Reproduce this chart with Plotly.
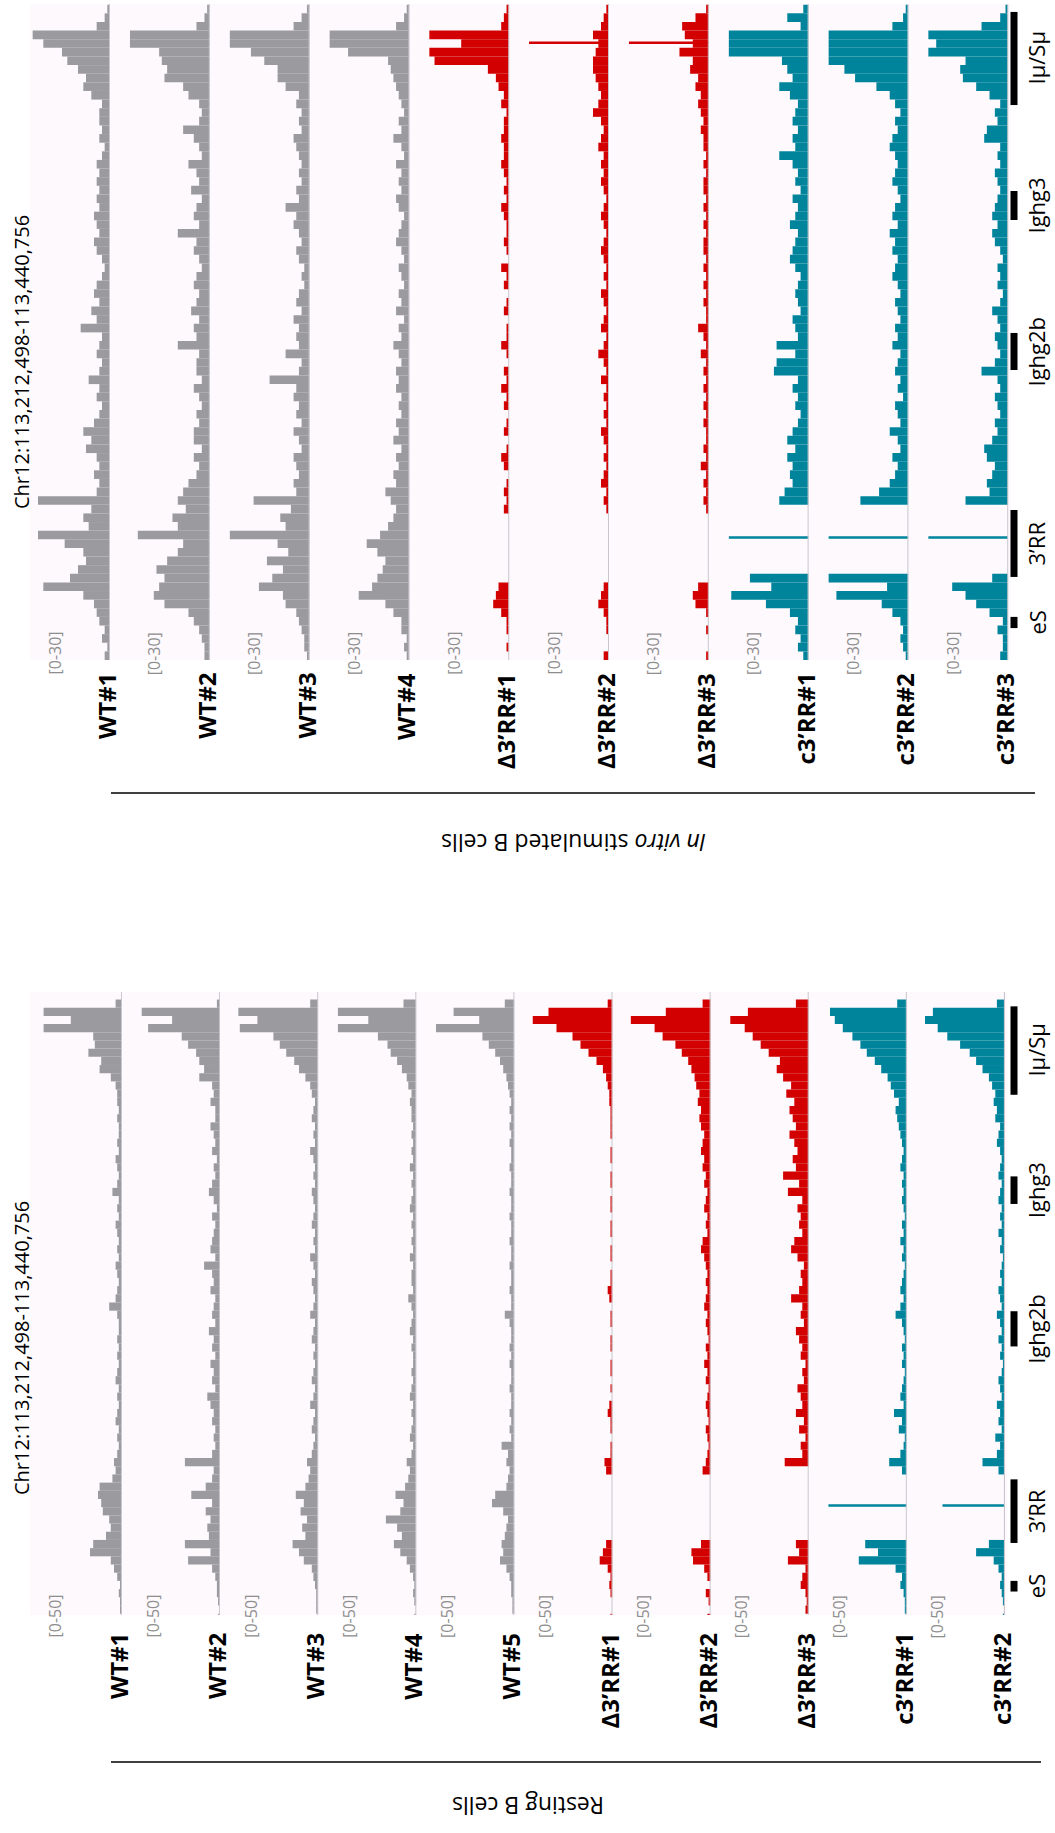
import plotly.graph_objects as go

W, H = 1055, 1833

# bins de 3 kb a lo largo de Chr12:113,212,498-113,440,756 (abajo -> arriba)
bin_kb = [1.5 + 3 * i for i in range(76)]

# ---- in vitro stimulated B cells, escala [0-30]
stim_names = ["WT#1", "WT#2", "WT#3", "WT#4", "Δ3’RR#1", "Δ3’RR#2", "Δ3’RR#3",
              "c3’RR#1", "c3’RR#2", "c3’RR#3"]
stim_wt1 = [2, 1, 3, 2, 4, 5, 6, 10, 25, 15, 12, 9, 10, 17, 27, 8, 10, 7, 27, 5,
            4, 6, 4, 5, 9, 7, 10, 6, 4, 3, 5, 4, 8, 4, 3, 5, 4, 3, 11, 5,
            7, 4, 6, 5, 3, 2, 3, 5, 6, 4, 5, 6, 4, 5, 4, 5, 4, 5, 3, 2,
            4, 3, 4, 4, 3, 7, 10, 9, 12, 16, 18, 25, 29, 5, 2, 1]
stim_wt2 = [2, 2, 3, 4, 6, 8, 17, 21, 19, 17, 20, 16, 12, 10, 27, 12, 14, 9, 12, 10,
            8, 5, 4, 6, 3, 6, 6, 4, 5, 3, 4, 6, 3, 5, 5, 4, 12, 5, 6, 4,
            7, 5, 4, 6, 5, 3, 4, 6, 5, 12, 4, 6, 5, 3, 7, 4, 5, 8, 3, 4,
            6, 10, 4, 3, 4, 8, 10, 17, 16, 18, 19, 30, 30, 5, 2, 1]
stim_wt3 = [1, 2, 2, 3, 4, 5, 9, 10, 19, 14, 10, 16, 8, 12, 30, 9, 11, 7, 21, 5,
            6, 4, 5, 6, 3, 4, 6, 3, 5, 4, 6, 5, 15, 4, 3, 9, 4, 5, 4, 6,
            3, 5, 4, 2, 3, 2, 4, 5, 3, 4, 6, 5, 9, 4, 5, 3, 4, 3, 4, 5,
            6, 3, 4, 3, 5, 4, 9, 12, 12, 17, 22, 30, 30, 6, 3, 1]
stim_wt4 = [1, 2, 1, 3, 3, 6, 9, 19, 14, 12, 10, 9, 12, 16, 11, 8, 6, 5, 7, 9,
            5, 6, 4, 5, 3, 6, 4, 5, 3, 4, 3, 5, 4, 5, 3, 4, 6, 3, 4, 2,
            5, 3, 4, 2, 3, 4, 2, 3, 5, 4, 3, 2, 4, 5, 3, 4, 3, 5, 2, 3,
            6, 3, 4, 2, 3, 4, 5, 6, 7, 8, 23, 30, 30, 5, 2, 1]
stim_d1 = [0, 1, 0, 1, 1, 3, 6, 5, 4, 0, 0, 0, 0, 0, 0, 0, 0, 2, 1, 2,
           1, 0, 2, 3, 1, 0, 2, 1, 0, 2, 1, 3, 1, 2, 0, 1, 3, 1, 1, 0,
           2, 1, 0, 2, 1, 3, 0, 1, 2, 1, 1, 2, 3, 1, 2, 1, 2, 3, 2, 2,
           3, 2, 2, 1, 3, 2, 4, 5, 8, 28, 30, 18, 30, 3, 2, 1]
stim_d2 = [2, 0, 0, 1, 1, 2, 4, 3, 2, 0, 0, 0, 0, 0, 0, 0, 0, 1, 2, 1,
           3, 2, 1, 2, 1, 2, 3, 1, 2, 1, 2, 1, 3, 1, 2, 4, 2, 1, 3, 2,
           1, 2, 3, 1, 2, 1, 2, 3, 2, 1, 2, 3, 2, 1, 2, 3, 2, 3, 2, 4,
           3, 2, 3, 6, 4, 3, 4, 5, 6, 6, 5, 4, 6, 3, 2, 1]
stim_d3 = [1, 0, 0, 1, 0, 1, 5, 6, 4, 0, 0, 0, 0, 0, 0, 0, 0, 1, 2, 1,
           2, 1, 3, 1, 2, 1, 1, 2, 1, 2, 1, 2, 1, 2, 1, 3, 1, 2, 4, 1,
           1, 2, 1, 2, 1, 2, 1, 2, 2, 1, 2, 1, 2, 1, 2, 2, 1, 2, 1, 2,
           2, 3, 2, 3, 4, 3, 5, 4, 7, 6, 11, 6, 9, 10, 5, 1]
stim_c1 = [2, 4, 3, 5, 4, 7, 16, 29, 14, 22, 0, 0, 0, 0, 0, 0, 0, 0, 11, 9,
           6, 7, 6, 8, 5, 8, 6, 4, 3, 5, 4, 6, 4, 13, 12, 5, 12, 4, 5, 6,
           3, 4, 5, 4, 3, 5, 7, 6, 5, 4, 7, 5, 4, 6, 3, 5, 4, 6, 11, 5,
           6, 4, 6, 5, 4, 7, 11, 6, 8, 10, 30, 30, 30, 3, 8, 2]
stim_c2 = [1, 2, 3, 2, 3, 6, 10, 27, 8, 30, 0, 0, 0, 0, 0, 0, 0, 0, 18, 11,
           7, 5, 4, 6, 3, 4, 7, 3, 4, 5, 2, 4, 3, 5, 4, 3, 6, 4, 5, 3,
           4, 5, 3, 4, 6, 5, 4, 6, 5, 7, 4, 6, 5, 3, 4, 6, 5, 4, 5, 7,
           6, 4, 5, 3, 5, 7, 12, 20, 24, 30, 30, 30, 30, 6, 2, 1]
stim_c3 = [3, 2, 2, 4, 2, 7, 12, 16, 21, 6, 0, 0, 0, 0, 0, 0, 0, 0, 16, 7,
           8, 6, 5, 8, 9, 6, 4, 5, 3, 4, 5, 3, 4, 10, 5, 3, 4, 5, 3, 4,
           6, 3, 2, 4, 3, 4, 2, 3, 5, 6, 4, 6, 5, 4, 3, 4, 5, 3, 4, 3,
           9, 8, 4, 5, 3, 7, 12, 17, 18, 16, 30, 27, 30, 10, 3, 1]
# picos estrechos (un solo bin fino) por pista: posicion kb y valor
stim_spike_kb = [None, None, None, None, None, 214.8, 214.8, 42.6, 42.6, 42.6]
stim_spike_val = [0, 0, 0, 0, 0, 30, 30, 30, 30, 30]

# ---- resting B cells, escala [0-50]
rest_names = ["WT#1", "WT#2", "WT#3", "WT#4", "WT#5", "Δ3’RR#1", "Δ3’RR#2", "Δ3’RR#3",
              "c3’RR#1", "c3’RR#2"]
rest_wt1 = [0, 1, 1, 2, 1, 3, 5, 7, 20, 18, 10, 7, 8, 12, 13, 15, 14, 6, 4, 5,
            3, 2, 3, 2, 4, 3, 2, 3, 2, 4, 3, 2, 3, 2, 3, 2, 2, 3, 8, 4,
            3, 2, 3, 4, 2, 3, 2, 3, 4, 2, 3, 2, 6, 3, 2, 3, 4, 2, 3, 2,
            2, 3, 2, 3, 3, 4, 7, 14, 13, 21, 17, 18, 49, 32, 49, 4]
rest_wt2 = [1, 0, 1, 2, 2, 3, 5, 20, 6, 22, 7, 8, 6, 9, 5, 18, 9, 5, 4, 22,
            5, 3, 4, 3, 5, 4, 6, 8, 3, 5, 4, 6, 3, 5, 4, 7, 3, 5, 4, 3,
            6, 4, 5, 10, 3, 6, 5, 4, 3, 5, 2, 4, 7, 5, 3, 4, 2, 5, 3, 4,
            6, 3, 3, 6, 4, 5, 13, 10, 13, 15, 20, 24, 45, 30, 49, 2]
rest_wt3 = [0, 1, 1, 1, 2, 3, 4, 9, 12, 16, 8, 10, 7, 11, 9, 14, 8, 6, 5, 7,
            4, 3, 2, 4, 3, 2, 5, 3, 2, 4, 3, 2, 3, 2, 4, 3, 2, 5, 3, 2,
            3, 4, 2, 3, 5, 2, 3, 2, 4, 3, 2, 3, 4, 2, 3, 2, 3, 5, 2, 3,
            2, 4, 3, 2, 4, 5, 8, 12, 15, 20, 24, 28, 49, 38, 50, 5]
rest_wt4 = [1, 0, 1, 2, 1, 2, 4, 6, 10, 14, 9, 12, 19, 10, 8, 13, 7, 5, 4, 6,
            3, 2, 4, 3, 2, 3, 2, 4, 3, 2, 3, 2, 2, 3, 2, 4, 3, 2, 3, 5,
            2, 3, 3, 2, 4, 2, 3, 2, 3, 2, 4, 3, 2, 3, 2, 4, 2, 3, 2, 3,
            2, 3, 3, 4, 3, 5, 6, 9, 12, 16, 18, 24, 49, 30, 49, 8]
rest_wt5 = [0, 1, 1, 2, 2, 3, 5, 9, 7, 8, 6, 5, 4, 7, 14, 12, 5, 4, 3, 5,
            4, 8, 2, 3, 2, 3, 2, 2, 3, 2, 2, 3, 2, 3, 2, 2, 3, 6, 2, 2,
            3, 2, 2, 3, 2, 2, 3, 2, 2, 3, 2, 2, 3, 2, 2, 3, 2, 2, 3, 2,
            3, 2, 3, 2, 3, 4, 5, 7, 9, 12, 16, 20, 49, 22, 38, 6]
rest_d1 = [1, 0, 0, 1, 2, 1, 3, 8, 6, 4, 0, 0, 0, 0, 0, 0, 0, 0, 4, 5,
           1, 1, 0, 1, 1, 3, 2, 0, 1, 0, 1, 1, 0, 1, 1, 0, 1, 1, 0, 2,
           3, 1, 1, 0, 1, 1, 0, 1, 1, 0, 1, 1, 0, 1, 1, 0, 1, 1, 0, 1,
           1, 1, 1, 2, 2, 3, 4, 6, 10, 15, 20, 25, 35, 50, 40, 3]
rest_d2 = [2, 0, 1, 3, 0, 2, 4, 11, 12, 6, 0, 0, 0, 0, 0, 0, 0, 0, 5, 3,
           2, 1, 2, 3, 1, 2, 3, 2, 1, 3, 2, 4, 2, 3, 1, 2, 3, 2, 4, 3,
           2, 3, 2, 3, 4, 6, 5, 2, 3, 2, 4, 3, 2, 4, 3, 5, 4, 6, 5, 4,
           6, 7, 6, 8, 7, 9, 10, 12, 14, 18, 22, 30, 35, 50, 28, 5]
rest_d3 = [0, 2, 1, 2, 5, 4, 2, 13, 6, 8, 0, 0, 0, 0, 0, 0, 0, 0, 0, 15,
           4, 5, 2, 6, 3, 8, 4, 5, 7, 3, 4, 2, 5, 4, 6, 8, 3, 5, 4, 11,
           6, 4, 5, 3, 7, 11, 9, 4, 6, 5, 7, 4, 13, 6, 16, 8, 10, 7, 9, 12,
           8, 10, 12, 9, 14, 11, 16, 20, 18, 25, 30, 35, 40, 49, 38, 8]
rest_c1 = [0, 1, 1, 2, 4, 3, 7, 30, 18, 26, 0, 0, 0, 0, 0, 0, 0, 0, 3, 11,
           4, 2, 1, 5, 3, 8, 2, 4, 3, 2, 1, 3, 2, 3, 1, 2, 3, 7, 4, 2,
           4, 3, 2, 1, 3, 2, 4, 2, 3, 1, 2, 3, 2, 3, 2, 4, 3, 2, 3, 4,
           5, 6, 7, 5, 8, 10, 12, 16, 20, 25, 29, 34, 40, 45, 48, 6]
rest_c2 = [1, 0, 1, 2, 3, 2, 4, 7, 18, 10, 0, 0, 0, 0, 0, 0, 0, 0, 4, 14,
           5, 3, 6, 2, 4, 3, 5, 2, 3, 4, 2, 1, 3, 2, 4, 2, 3, 5, 2, 3,
           4, 2, 3, 2, 1, 3, 2, 4, 2, 3, 2, 4, 3, 2, 4, 3, 2, 3, 5, 4,
           3, 6, 5, 7, 6, 8, 10, 14, 18, 22, 28, 36, 42, 50, 45, 5]
rest_spike_kb = [None, None, None, None, None, None, None, None, 42.6, 42.6]
rest_spike_val = [0, 0, 0, 0, 0, 0, 0, 0, 49, 39]

# anotacion de genes (kb desde 113,212,498)
genes = ["eS", "3’RR", "Ighg2b", "Ighg3", "Iμ/Sμ"]
gene_start = [11.1, 28.9, 100.9, 153.1, 193.1]
gene_end = [15.0, 52.2, 113.8, 163.2, 225.5]

GRIS, ROJO, AZUL = "#9b9a9e", "#d20000", "#00849c"
FONT = "Open Sans"


def color(nombre):
    if nombre.startswith("WT"):
        return GRIS
    if nombre.startswith("Δ"):
        return ROJO
    return AZUL


def px(x):
    return x / W


def py(y):
    return 1 - y / H


def texto(txt, x, y, size, angle=-90, xa="center", ya="middle", col="black", yref="paper"):
    return dict(text=txt, x=x, y=y, xref="paper", yref=yref, textangle=angle,
                showarrow=False, xanchor=xa, yanchor=ya, borderpad=0,
                font=dict(family=FONT, size=size, color=col))


paneles = [
    dict(yaxis="y", names=stim_names, scale=30, scale_txt="[0-30]",
         data=[stim_wt1, stim_wt2, stim_wt3, stim_wt4, stim_d1, stim_d2, stim_d3,
               stim_c1, stim_c2, stim_c3],
         spk=stim_spike_kb, spv=stim_spike_val,
         top=4, bot=660, rng=[0, 228.26], b0=110, step=99.8, right=1011,
         lab_top=672, sc_off=56, sc_top=631, title_y=362),
    dict(yaxis="y2", names=rest_names, scale=50, scale_txt="[0-50]",
         data=[rest_wt1, rest_wt2, rest_wt3, rest_wt4, rest_wt5, rest_d1, rest_d2,
               rest_d3, rest_c1, rest_c2],
         spk=rest_spike_kb, spv=rest_spike_val,
         top=992, bot=1615, rng=[2.5, 230.76], b0=122, step=98.1, right=1007,
         lab_top=1632, sc_off=68, sc_top=1594, title_y=1348),
]

fig = go.Figure()
shapes, annots, layout = [], [], {}
n = 0
for p in paneles:
    ykey = "yaxis" if p["yaxis"] == "y" else "yaxis" + p["yaxis"][1:]
    # fondo del panel
    shapes.append(dict(type="rect", xref="paper", yref="paper", layer="below",
                       x0=px(30), x1=px(p["right"]), y0=py(p["bot"]), y1=py(p["top"]),
                       fillcolor="#fdf9fd", line_width=0))
    first = None
    for k, nombre in enumerate(p["names"]):
        vals = p["data"][k]
        n += 1
        xref = "x" if n == 1 else f"x{n}"
        xkey = "xaxis" if n == 1 else f"xaxis{n}"
        if first is None:
            first = xref
        b = p["b0"] + p["step"] * k
        layout[xkey] = dict(domain=[px(b - 80), px(b)], range=[p["scale"], 0],
                            visible=False, fixedrange=True, anchor=p["yaxis"])
        fig.add_trace(go.Bar(x=vals, y=bin_kb, orientation="h", width=3,
                             marker=dict(color=color(nombre), line_width=0),
                             xaxis=xref, yaxis=p["yaxis"], hoverinfo="skip"))
        if p["spk"][k] is not None:
            fig.add_trace(go.Bar(x=[p["spv"][k]], y=[p["spk"][k]], orientation="h",
                                 width=0.9, marker=dict(color=color(nombre), line_width=0),
                                 xaxis=xref, yaxis=p["yaxis"], hoverinfo="skip"))
        # linea base
        shapes.append(dict(type="line", xref=xref, yref="paper", x0=0, x1=0,
                           y0=py(p["bot"]), y1=py(p["top"]),
                           line=dict(color="#c9c7cd", width=2)))
        annots.append(texto(f"<b>{nombre}</b>", px(b - 4), py(p["lab_top"]), 24, ya="top"))
        annots.append(texto(p["scale_txt"], px(b - p["sc_off"]), py(p["sc_top"]), 16,
                            ya="top", col="#8e8e8e"))
    layout[ykey] = dict(domain=[py(p["bot"]), py(p["top"])], range=p["rng"],
                        visible=False, fixedrange=True, anchor=first)
    # genes
    for g, s, e in zip(genes, gene_start, gene_end):
        shapes.append(dict(type="line", xref="paper", yref=p["yaxis"],
                           x0=px(1014), x1=px(1014), y0=s, y1=e,
                           line=dict(color="black", width=7)))
        annots.append(texto(g, px(1036), (s + e) / 2, 22, yref=p["yaxis"]))
    annots.append(texto("Chr12:113,212,498-113,440,756", px(21), py(p["title_y"]), 20))

# separadores y nombres de grupo (texto invertido)
shapes.append(dict(type="line", xref="paper", yref="paper", x0=px(111), x1=px(1035),
                   y0=py(793), y1=py(793), line=dict(color="black", width=1.5)))
shapes.append(dict(type="line", xref="paper", yref="paper", x0=px(111), x1=px(1041),
                   y0=py(1762), y1=py(1762), line=dict(color="black", width=1.5)))
annots.append(texto("<i>In vitro</i> stimulated B cells", px(573), py(843), 23, angle=180))
annots.append(texto("Resting B cells", px(528), py(1806), 23, angle=180))

fig.update_layout(**layout)
fig.update_layout(
    width=W, height=H, autosize=False,
    margin=dict(l=0, r=0, t=0, b=0, pad=0),
    showlegend=False, barmode="overlay",
    plot_bgcolor="rgba(0,0,0,0)", paper_bgcolor="white",
    shapes=shapes, annotations=annots,
)

fig.write_html("out.html", config={"displayModeBar": False},
               post_script="document.body.style.margin='0';")
